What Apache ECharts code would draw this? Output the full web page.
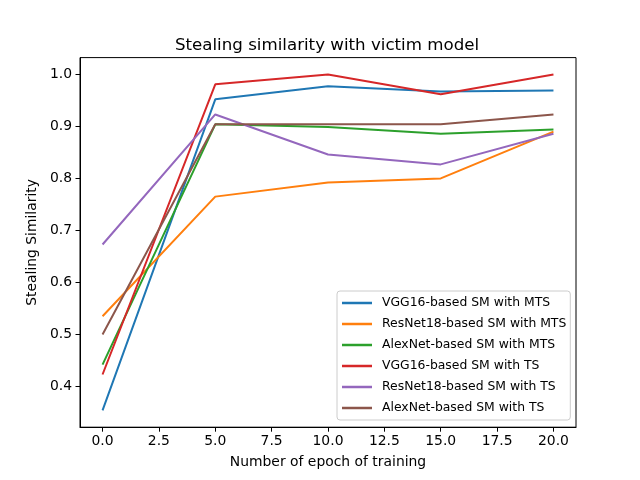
<!DOCTYPE html>
<html>
<head>
<meta charset="utf-8">
<script src="https://cdn.jsdelivr.net/npm/echarts@6/dist/echarts.min.js"></script>
<style>html,body{margin:0;padding:0;background:#fff;}#c{width:640px;height:480px;}</style>
</head>
<body>
<div id="c"></div>
<script>
const epochs = [0, 5, 10, 15, 20];
const seriesNames = [
  'VGG16-based SM with MTS',
  'ResNet18-based SM with MTS',
  'AlexNet-based SM with MTS',
  'VGG16-based SM with TS',
  'ResNet18-based SM with TS',
  'AlexNet-based SM with TS'
];
const vgg16MTS   = [0.354, 0.952, 0.977, 0.967, 0.969];
const resnet18MTS = [0.535, 0.765, 0.792, 0.800, 0.890];
const alexnetMTS = [0.442, 0.904, 0.899, 0.886, 0.894];
const vgg16TS    = [0.423, 0.981, 1.000, 0.962, 1.000];
const resnet18TS = [0.673, 0.923, 0.846, 0.827, 0.886];
const alexnetTS  = [0.500, 0.904, 0.904, 0.904, 0.923];
const xTicks = [0, 2.5, 5, 7.5, 10, 12.5, 15, 17.5, 20];
const yTicks = [0.4, 0.5, 0.6, 0.7, 0.8, 0.9, 1.0];
const colors = ['#1f77b4', '#ff7f0e', '#2ca02c', '#d62728', '#9467bd', '#8c564b'];
const allValues = [vgg16MTS, resnet18MTS, alexnetMTS, vgg16TS, resnet18TS, alexnetTS];

const flat = allValues.flat();
const yMin = Math.min(...flat), yMax = Math.max(...flat);
const yPad = (yMax - yMin) * 0.05;
const xPad = (epochs[epochs.length - 1] - epochs[0]) * 0.05;

const font = 'DejaVu Sans';
const chart = echarts.init(document.getElementById('c'), null, {renderer: 'canvas'});
chart.setOption({
  backgroundColor: '#fff',
  animation: false,
  color: colors,
  title: {
    text: 'Stealing similarity with victim model',
    left: 322, top: 32, textAlign: 'center',
    textStyle: {fontFamily: font, fontSize: 16.67, fontWeight: 'normal', color: '#000'}
  },
  grid: {
    left: 80, right: 64, top: 57.6, bottom: 52.8,
    show: true, borderColor: '#000', borderWidth: 1, backgroundColor: 'transparent'
  },
  legend: {
    orient: 'vertical',
    left: 337, top: 291,
    padding: [4, 4, 4, 5],
    itemWidth: 30, itemHeight: 2.5, itemGap: 5,
    icon: 'rect',
    borderColor: '#cccccc', borderWidth: 1, borderRadius: 3,
    backgroundColor: 'rgba(255,255,255,0.8)',
    textStyle: {fontFamily: font, fontSize: 12.4, color: '#000', lineHeight: 16, padding: [0, 0, 0, 5]},
    data: seriesNames
  },
  xAxis: {
    type: 'value',
    min: epochs[0] - xPad, max: epochs[epochs.length - 1] + xPad,
    name: 'Number of epoch of training',
    nameLocation: 'middle', nameGap: 28,
    nameTextStyle: {fontFamily: font, fontSize: 13.9, color: '#000'},
    axisLine: {show: true, onZero: false, lineStyle: {color: '#000', width: 1}},
    axisTick: {show: true, length: 4.5, lineStyle: {color: '#000', width: 1}, customValues: xTicks},
    axisLabel: {
      fontFamily: font, fontSize: 13.9, color: '#000', margin: 7,
      customValues: xTicks,
      formatter: v => v.toFixed(1)
    },
    splitLine: {show: false}
  },
  yAxis: {
    type: 'value',
    min: yMin - yPad, max: yMax + yPad,
    name: 'Stealing Similarity',
    nameLocation: 'middle', nameGap: 35,
    nameTextStyle: {fontFamily: font, fontSize: 13.9, color: '#000'},
    axisLine: {show: true, onZero: false, lineStyle: {color: '#000', width: 1}},
    axisTick: {show: true, length: 4.5, lineStyle: {color: '#000', width: 1}, customValues: yTicks},
    axisLabel: {
      fontFamily: font, fontSize: 13.9, color: '#000', margin: 8,
      customValues: yTicks,
      formatter: v => v.toFixed(1)
    },
    splitLine: {show: false}
  },
  series: seriesNames.map((name, i) => ({
    name: name,
    type: 'line',
    data: epochs.map((e, j) => [e, allValues[i][j]]),
    showSymbol: false,
    symbol: 'none',
    lineStyle: {width: 2, color: colors[i]},
    itemStyle: {color: colors[i]},
    z: 2 + i
  }))
});
</script>
</body>
</html>
